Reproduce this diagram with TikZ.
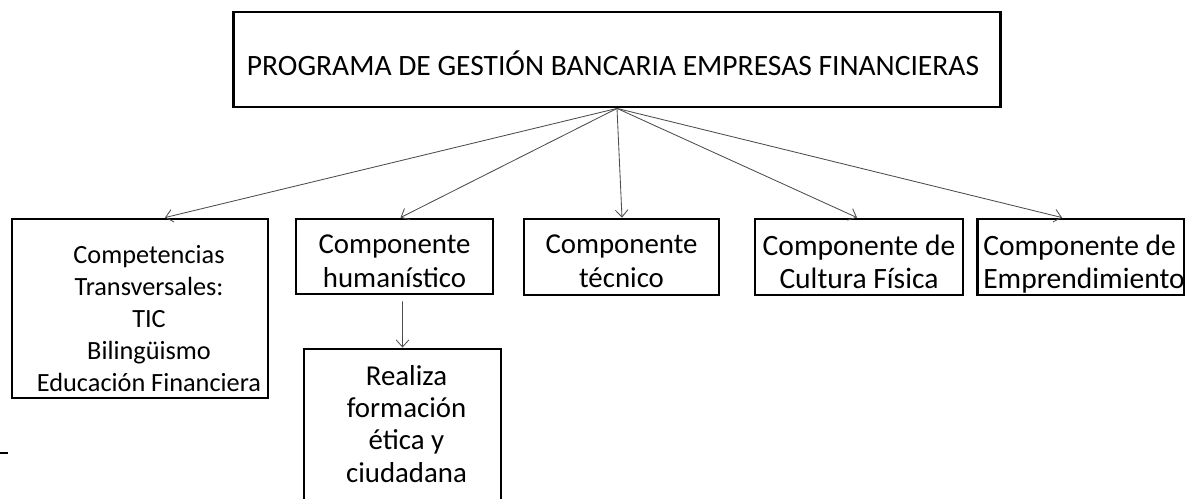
\documentclass[tikz,border=0pt]{standalone}
\usepackage{fontspec}
\setmainfont{Carlito}
\usetikzlibrary{arrows.meta}
\usetikzlibrary{positioning}
\tikzstyle{caja}=[
        draw,
        rectangle,
        line width=2pt,
        inner sep=0pt,
        font=\fontsize{20.5}{24}\selectfont
]
\tikzstyle{flecha}=[-{Straight Barb[length=5pt,width=9pt]},draw=black!70,line width=0.6pt]
% texto bajado dentro de la caja
\newcommand{\bajar}[3][c]{\raisebox{-#2}[0pt][0pt]{\begin{tabular}{@{}#1@{}}#3\end{tabular}}}

\begin{document}
\begin{tikzpicture}[x=0.025cm,y=-0.025cm]
\clip (0,0) rectangle (1185,499);
\node[caja,minimum width=19.15cm,minimum height=2.375cm,font=\fontsize{21}{24}\selectfont] (prog) at (617,59.5) {\bajar{11.6pt}{PROGRAMA DE GESTIÓN BANCARIA EMPRESAS FINANCIERAS}\hspace*{0.2cm}};
\node[caja,minimum width=6.4cm,minimum height=4.475cm,font=\fontsize{18.7}{22.7}\selectfont] (trans) at (140,308.5) {\hspace*{0.45cm}\bajar{13.5pt}{Competencias\\Transversales:\\TIC\\Bilingüismo\\Educación Financiera}};
\node[caja,minimum width=4.925cm,minimum height=1.875cm] (human) at (394.5,256.5) {\bajar{10.3pt}{Componente\\humanístico}};
\node[caja,minimum width=4.875cm,minimum height=1.9cm] (tecn) at (621.5,257) {\bajar{9.9pt}{Componente\\técnico}};
\node[caja,minimum width=5.2cm,minimum height=1.9cm,font=\fontsize{21}{23.5}\selectfont] (cult) at (859,257) {\bajar{11pt}{Componente de\\Cultura Física}};
\node[caja,minimum width=5.1cm,minimum height=1.9cm,font=\fontsize{21}{23.5}\selectfont] (empr) at (1081,257) {\hspace*{0.15cm}\bajar[l]{11pt}{Componente de\\Emprendimiento}};
\node[caja,minimum width=4.925cm,minimum height=4cm,font=\fontsize{20.5}{23}\selectfont] (etica) at (402.5,429) {\hspace*{0.2cm}\bajar{4pt}{Realiza\\formación\\ética y\\ciudadana}};
%flechas
\draw[flecha] (prog.south) -- ([xshift=0.625cm]trans.north);
\draw[flecha] (prog.south) -- ([xshift=0.15cm]human.north);
\draw[flecha] (prog.south) -- ([xshift=0.0125cm]tecn.north);
\draw[flecha] (prog.south) -- ([xshift=-0.05cm]cult.north);
\draw[flecha] (prog.south) -- ([xshift=-0.475cm]empr.north);
\draw[flecha,shorten <=0.15cm] ([xshift=0.2cm]human.south) -- (etica.north);
\draw[line width=1.5pt] (0,453) -- (8,453);
\end{tikzpicture}
\end{document}
